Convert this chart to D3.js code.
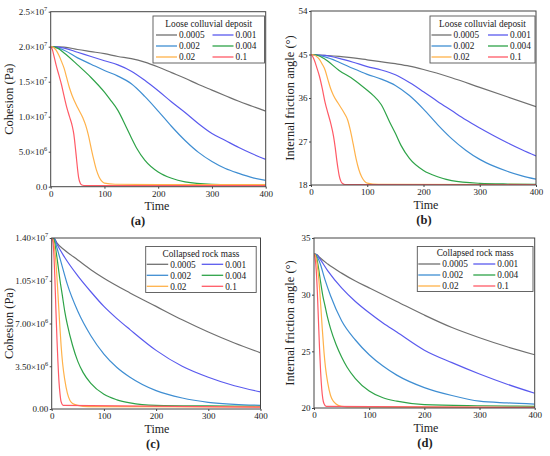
<!DOCTYPE html>
<html>
<head>
<meta charset="utf-8">
<script src="https://cdn.jsdelivr.net/npm/d3@7"></script>
<style>
  body { margin: 0; background: #fff; }
  svg { font-family: "Liberation Serif", "Times New Roman", serif; }
</style>
</head>
<body>
<svg id="chart" width="550" height="456"></svg>
<script>
'use strict';

var rates = ['0.0005', '0.001', '0.002', '0.004', '0.02', '0.1'];
var timeTicks = [0, 100, 200, 300, 400];

// (a) cohesion, loose colluvial deposit, in 10^6 Pa
var looseCoh0005 = [[0,20.0],[25,19.95],[50,19.6],[75,19.3],[100,19.0],[125,18.6],[150,18.3],[175,17.8],[200,17.1],[225,16.3],[250,15.5],[275,14.6],[300,13.8],[325,13.0],[350,12.2],[375,11.5],[400,10.8]];
var looseCoh001 = [[0,20.0],[25,19.8],[50,19.2],[75,18.6],[100,18.0],[125,17.4],[150,16.5],[175,15.2],[200,13.7],[225,12.1],[250,10.6],[275,9.0],[300,7.6],[325,6.6],[350,5.6],[375,4.7],[400,3.9]];
var looseCoh002 = [[0,20.0],[25,19.5],[50,18.4],[75,17.5],[100,16.6],[125,15.8],[150,14.7],[175,12.9],[200,10.8],[225,8.6],[250,6.6],[275,4.9],[300,3.6],[325,2.6],[350,1.9],[375,1.3],[400,0.9]];
var looseCoh004 = [[0,20.0],[10,19.9],[25,19.1],[50,17.4],[75,15.6],[100,13.5],[110,12.5],[125,10.9],[140,8.6],[150,7.0],[160,5.5],[175,3.8],[200,2.1],[225,1.2],[250,0.7],[300,0.35],[350,0.28],[400,0.25]];
var looseCoh02 = [[0,20.0],[5,19.9],[10,19.5],[15,18.8],[20,17.9],[25,16.9],[30,15.5],[35,14.1],[40,13.0],[50,11.3],[60,9.8],[65,8.8],[70,7.4],[75,5.6],[80,3.9],[85,2.4],[90,1.4],[95,0.8],[100,0.5],[120,0.35],[200,0.3],[400,0.3]];
var looseCoh1 = [[0,20.0],[3,19.6],[6,18.7],[10,17.4],[15,16.0],[20,14.6],[25,12.9],[30,11.3],[35,10.0],[40,8.7],[43,7.5],[46,5.5],[48,4.0],[50,2.5],[52,1.3],[55,0.5],[58,0.25],[65,0.15],[400,0.15]];

// (b) friction angle, loose colluvial deposit, degrees
var looseFric0005 = [[0,45],[50,44.6],[100,43.9],[150,43.1],[175,42.6],[200,41.9],[250,40.2],[300,38.2],[350,36.2],[400,34.2]];
var looseFric001 = [[0,45],[25,44.8],[50,44.2],[75,43.4],[100,42.5],[125,41.8],[150,40.8],[175,39.2],[200,37.3],[225,35.3],[250,33.4],[275,31.5],[300,29.8],[325,28.2],[350,26.7],[375,25.3],[400,24.0]];
var looseFric002 = [[0,45],[25,44.5],[50,43.4],[75,42.1],[100,40.9],[125,39.9],[150,38.6],[175,36.5],[200,33.7],[225,30.5],[250,27.6],[275,25.2],[300,23.3],[325,21.9],[350,20.8],[375,19.9],[400,19.2]];
var looseFric004 = [[0,45],[10,44.9],[25,44.0],[50,41.7],[75,39.9],[100,37.6],[110,36.6],[125,34.6],[140,31.0],[150,28.7],[160,26.2],[175,23.5],[200,21.0],[225,19.7],[250,18.9],[300,18.35],[350,18.2],[400,18.15]];
var looseFric02 = [[0,45],[5,44.9],[10,44.6],[15,44.0],[20,43.0],[25,41.8],[30,39.8],[35,37.9],[40,36.5],[50,34.6],[60,32.7],[65,31.5],[70,29.3],[75,26.5],[80,23.5],[85,21.2],[90,19.7],[95,18.8],[100,18.4],[120,18.15],[400,18.1]];
var looseFric1 = [[0,45],[3,44.6],[6,43.8],[10,42.4],[15,40.5],[20,38.0],[25,35.1],[30,32.9],[35,30.8],[40,28.1],[43,25.8],[46,23.0],[48,21.4],[50,20.0],[53,18.8],[56,18.3],[60,18.1],[400,18.05]];

// (c) cohesion, collapsed rock mass, in 10^6 Pa
var collCoh0005 = [[0,14.0],[5,13.95],[10,13.6],[25,13.0],[50,12.2],[75,11.4],[100,10.7],[150,9.5],[200,8.4],[250,7.3],[300,6.3],[350,5.4],[400,4.6]];
var collCoh001 = [[0,14.0],[5,13.95],[10,13.5],[25,12.4],[50,10.9],[75,9.6],[100,8.4],[125,7.4],[150,6.5],[200,4.8],[250,3.5],[300,2.6],[350,1.9],[400,1.4]];
var collCoh002 = [[0,14.0],[5,13.9],[10,13.2],[20,11.7],[30,10.2],[50,8.0],[75,6.0],[100,4.5],[125,3.4],[150,2.6],[200,1.5],[250,0.9],[300,0.55],[350,0.38],[400,0.3]];
var collCoh004 = [[0,14.0],[4,13.9],[8,13.0],[12,11.8],[16,10.5],[20,9.4],[25,8.0],[30,6.9],[40,5.2],[50,3.9],[60,3.0],[75,2.1],[100,1.2],[125,0.75],[150,0.5],[200,0.3],[300,0.25],[400,0.22]];
var collCoh02 = [[0,14.0],[3,13.8],[6,13.0],[9,11.5],[12,9.4],[15,7.2],[18,5.2],[21,3.7],[25,2.4],[30,1.3],[35,0.7],[40,0.45],[50,0.3],[70,0.2],[400,0.18]];
var collCoh1 = [[0,14.0],[2,13.8],[4,12.8],[6,10.8],[8,8.2],[10,5.8],[12,3.8],[14,2.2],[16,1.2],[18,0.6],[22,0.3],[400,0.15]];

// (d) friction angle, collapsed rock mass, degrees
var collFric0005 = [[0,33.6],[5,33.55],[10,33.3],[25,32.7],[50,31.9],[75,31.2],[100,30.6],[150,29.4],[200,28.2],[250,27.1],[300,26.2],[350,25.4],[400,24.7]];
var collFric001 = [[0,33.6],[5,33.5],[10,33.2],[25,32.1],[50,30.6],[75,29.4],[100,28.4],[125,27.5],[150,26.7],[200,25.1],[250,24.0],[300,23.0],[350,22.1],[400,21.3]];
var collFric002 = [[0,33.6],[5,33.4],[10,32.9],[20,31.3],[30,29.9],[50,27.7],[75,26.0],[100,24.7],[125,23.7],[150,22.9],[200,21.8],[250,21.1],[300,20.6],[350,20.45],[400,20.35]];
var collFric004 = [[0,33.6],[4,33.4],[8,32.4],[12,31.1],[16,29.9],[20,29.0],[25,27.9],[30,27.0],[40,25.6],[50,24.5],[60,23.6],[75,22.6],[100,21.5],[125,20.9],[150,20.6],[200,20.3],[300,20.2],[400,20.15]];
var collFric02 = [[0,33.6],[3,33.4],[6,32.6],[9,31.2],[12,29.2],[15,27.0],[18,25.0],[21,23.5],[25,22.2],[30,21.1],[35,20.6],[40,20.35],[50,20.15],[70,20.1],[400,20.05]];
var collFric1 = [[0,33.6],[2,33.2],[4,32.2],[6,30.3],[8,27.8],[10,25.3],[12,23.2],[14,21.7],[16,20.8],[18,20.4],[22,20.15],[400,20.05]];

var looseCohTicks = ['0.0', '5.0×10^6', '1.0×10^7', '1.5×10^7', '2.0×10^7', '2.5×10^7'];
var looseFricTicks = ['18', '27', '36', '45', '54'];
var collCohTicks = ['0.00', '3.50×10^6', '7.00×10^6', '1.05×10^7', '1.40×10^7'];
var collFricTicks = ['20', '25', '30', '35'];

var colors = ['#707070', '#5a5aee', '#3f8ed2', '#2ea348', '#ffb24a', '#ff5a66'];

var panels = [
  { x0: 50.7, x1: 265.7, y0: 11.7, y1: 186.7, dom: [0, 25], ticks: [0, 5, 10, 15, 20, 25], labels: looseCohTicks,
    series: [looseCoh0005, looseCoh001, looseCoh002, looseCoh004, looseCoh02, looseCoh1],
    ylabel: 'Cohesion (Pa)', ylx: 9, tlx: 157, letter: '(a)', lx: 138, ly: 225,
    leg: { title: 'Loose colluvial deposit', x: 153, y: 16, w: 111.5, h: 47, c1: 156, c2: 212.5, len: 21, row0: 24, dy: 11 } },
  { x0: 311, x1: 536, y0: 11, y1: 185, dom: [18, 54], ticks: [18, 27, 36, 45, 54], labels: looseFricTicks,
    series: [looseFric0005, looseFric001, looseFric002, looseFric004, looseFric02, looseFric1],
    ylabel: 'Internal friction angle (°)', ylx: 290, tlx: 426, letter: '(b)', lx: 424, ly: 224,
    leg: { title: 'Loose colluvial deposit', x: 430, y: 16, w: 105, h: 47, c1: 431.5, c2: 488, len: 20, row0: 24, dy: 11 } },
  { x0: 51.7, x1: 260.5, y0: 238, y1: 409, dom: [0, 14], ticks: [0, 3.5, 7, 10.5, 14], labels: collCohTicks,
    series: [collCoh0005, collCoh001, collCoh002, collCoh004, collCoh02, collCoh1],
    ylabel: 'Cohesion (Pa)', ylx: 9, tlx: 157, letter: '(c)', lx: 153, ly: 448,
    leg: { title: 'Collapsed rock mass', x: 145.7, y: 246.5, w: 110.5, h: 46, c1: 146.7, c2: 201.7, len: 21.5, row0: 253.3, dy: 11 } },
  { x0: 314, x1: 534.7, y0: 238, y1: 408, dom: [20, 35], ticks: [20, 25, 30, 35], labels: collFricTicks,
    series: [collFric0005, collFric001, collFric002, collFric004, collFric02, collFric1],
    ylabel: 'Internal friction angle (°)', ylx: 290, tlx: 426, letter: '(d)', lx: 425, ly: 447,
    leg: { title: 'Collapsed rock mass', x: 417.3, y: 246.5, w: 115.7, h: 45, c1: 418.3, c2: 473.3, len: 22, row0: 253, dy: 11 } }
];

var svg = d3.select('#chart');

// writes "a×10^b" as text with a raised exponent
function writeLabel(sel, label) {
  sel.text(null);
  var parts = label.split('^');
  sel.append('tspan').text(parts[0]);
  if (parts.length > 1) {
    sel.append('tspan').attr('dy', -4).attr('font-size', 6.3).text(parts[1]);
  }
}

panels.forEach(function (p) {
  var x = d3.scaleLinear().domain([0, 400]).range([p.x0, p.x1]);
  var y = d3.scaleLinear().domain(p.dom).range([p.y1, p.y0]);
  var g = svg.append('g');

  var clipId = 'clip' + p.letter.charAt(1);
  svg.append('clipPath').attr('id', clipId)
    .append('rect').attr('x', p.x0).attr('y', p.y0).attr('width', p.x1 - p.x0).attr('height', p.y1 - p.y0);

  var line = d3.line()
    .x(function (d) { return x(d[0]); })
    .y(function (d) { return y(d[1]); })
    .curve(d3.curveMonotoneX);

  g.append('g').attr('clip-path', 'url(#' + clipId + ')')
    .selectAll('path')
    .data(p.series)
    .enter()
    .append('path')
    .attr('d', line)
    .attr('fill', 'none')
    .attr('stroke', function (d, i) { return colors[i]; })
    .attr('stroke-width', 1.2);

  // axes
  var xAxis = g.append('g').attr('transform', 'translate(0,' + p.y1 + ')')
    .call(d3.axisBottom(x).tickValues(timeTicks).tickSize(2).tickPadding(1.5));
  var yAxis = g.append('g').attr('transform', 'translate(' + p.x0 + ',0)')
    .call(d3.axisLeft(y).tickValues(p.ticks).tickSize(2).tickPadding(1.5));
  [xAxis, yAxis].forEach(function (ax) {
    ax.select('.domain').remove();
    ax.selectAll('line').attr('stroke', '#444');
    ax.selectAll('text').attr('font-family', 'Liberation Serif').attr('font-size', 9).attr('fill', '#222');
  });
  yAxis.selectAll('.tick text').each(function (d, i) {
    writeLabel(d3.select(this), p.labels[i]);
  });

  g.append('rect')
    .attr('x', p.x0).attr('y', p.y0)
    .attr('width', p.x1 - p.x0).attr('height', p.y1 - p.y0)
    .attr('fill', 'none').attr('stroke', '#444').attr('stroke-width', 1);

  // titles
  g.append('text').attr('x', p.tlx).attr('y', p.y1 + 23.5)
    .attr('text-anchor', 'middle').attr('font-size', 12).attr('fill', '#222').text('Time');
  g.append('text')
    .attr('transform', 'translate(' + p.ylx + ',' + ((p.y0 + p.y1) / 2) + ') rotate(-90)')
    .attr('text-anchor', 'middle').attr('dy', '0.35em')
    .attr('font-size', 12.5).attr('fill', '#222').text(p.ylabel);
  g.append('text').attr('x', p.lx).attr('y', p.ly)
    .attr('text-anchor', 'middle').attr('font-size', 12.5).attr('font-weight', 'bold')
    .attr('fill', '#222').text(p.letter);

  // legend
  var L = p.leg;
  var lg = g.append('g');
  lg.append('rect').attr('x', L.x).attr('y', L.y).attr('width', L.w).attr('height', L.h)
    .attr('fill', '#fff').attr('stroke', '#555').attr('stroke-width', 0.9);
  lg.append('text').attr('x', L.x + L.w / 2).attr('y', L.row0).attr('dy', '0.35em')
    .attr('text-anchor', 'middle').attr('font-size', 9.3).attr('fill', '#222').text(L.title);
  var items = lg.selectAll('g.item').data(rates).enter().append('g').attr('class', 'item')
    .attr('transform', function (d, i) {
      var cx = i % 2 === 0 ? L.c1 : L.c2;
      var cy = L.row0 + L.dy * (Math.floor(i / 2) + 1);
      return 'translate(' + cx + ',' + cy + ')';
    });
  items.append('line').attr('x1', 0).attr('x2', L.len).attr('y1', 0).attr('y2', 0)
    .attr('stroke', function (d, i) { return colors[i]; }).attr('stroke-width', 1.3);
  items.append('text').attr('x', L.len + 2).attr('dy', '0.35em')
    .attr('font-size', 9.3).attr('fill', '#222').text(function (d) { return d; });
});
</script>
</body>
</html>
